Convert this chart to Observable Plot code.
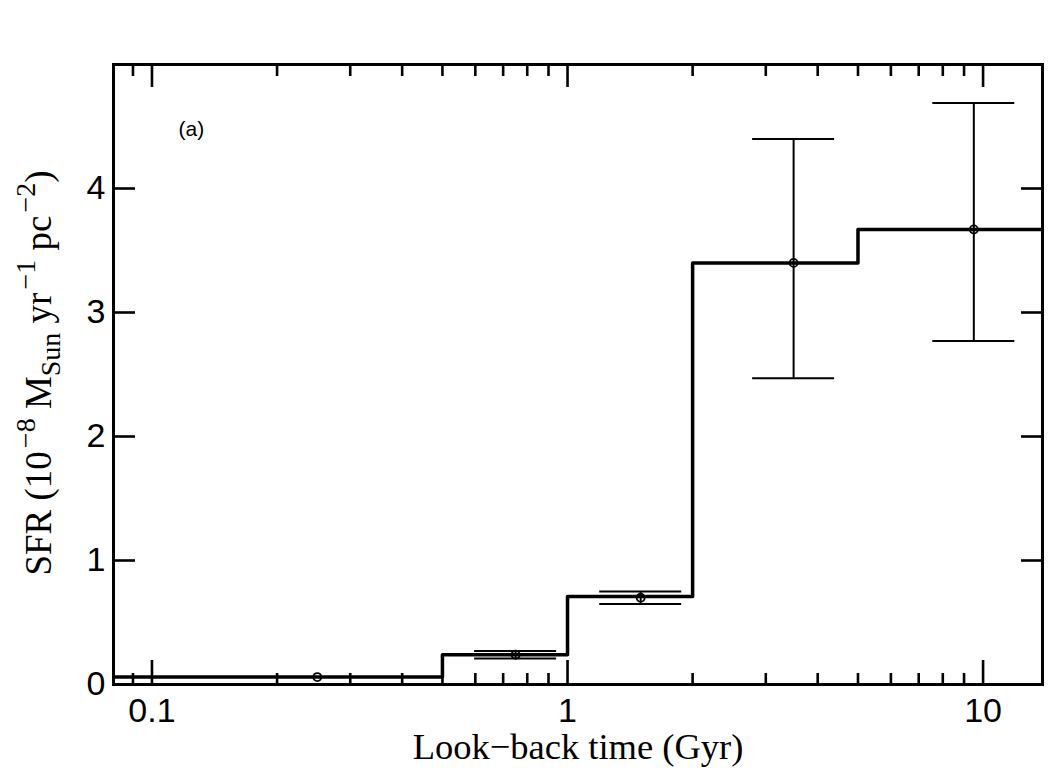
<!DOCTYPE html>
<html><head><meta charset="utf-8">
<script src="https://cdn.jsdelivr.net/npm/d3@7"></script>
<script src="https://cdn.jsdelivr.net/npm/@observablehq/plot@0.6"></script>
<style>body{margin:0;background:#fff} #chart svg{display:block}</style>
</head><body><div id="chart"></div>
<script>
// ---- data ----
const binEdges = [0.08, 0.5, 1, 2, 5, 14];          // Gyr, bin boundaries of the SFH
const sfrStep  = [0.06, 0.24, 0.71, 3.40, 3.67];     // SFR per bin
const pointTime = [0.25, 0.75, 1.5, 3.5, 9.5];       // bin centres (Gyr)
const pointSfr  = [0.06, 0.24, 0.70, 3.40, 3.67];
const errLow    = [0.06, 0.21, 0.65, 2.47, 2.77];
const errHigh   = [0.06, 0.27, 0.75, 4.40, 4.69];
const xMajor = [0.1, 1, 10];
const xMajorLabels = ["0.1", "1", "10"];
const xMinor = [0.09, 0.2, 0.3, 0.4, 0.5, 0.6, 0.7, 0.8, 0.9, 2, 3, 4, 5, 6, 7, 8, 9];
const yTicks = [0, 1, 2, 3, 4];
const yTickLabels = ["0", "1", "2", "3", "4"];
const xDomain = [0.0808, 13.9];
const yDomain = [0, 5];
const panelLabel = "(a)";
const xTitle = "Look\u2212back time (Gyr)";
const yTitleParts = [
  {t: "SFR (10", s: 0},
  {t: "\u22128", s: 1},
  {t: " M", s: 0},
  {t: "Sun", s: -1},
  {t: " yr", s: 0},
  {t: "\u22121", s: 1},
  {t: " pc", s: 0},
  {t: "\u22122", s: 1},
  {t: ")", s: 0}
];

// ---- derived tables ----
const stepData = binEdges.map((t, i) => ({t, sfr: sfrStep[Math.min(i, sfrStep.length - 1)]}));
const points = pointTime.map((t, i) => ({t, sfr: pointSfr[i], lo: errLow[i], hi: errHigh[i]}));
const capFactor = 1.255; // cap half-width as a factor in log space

const sans = "'Liberation Sans', Arial, Helvetica, sans-serif";
const serif = "'Liberation Serif', 'Times New Roman', serif";
const tickStyle = {fill: "none", stroke: "black", strokeWidth: 2.6, label: null};

const plot = Plot.plot({
  width: 1050, height: 773,
  marginLeft: 113, marginRight: 8, marginTop: 64, marginBottom: 89,
  x: {type: "log", domain: xDomain, label: null},
  y: {domain: yDomain, label: null},
  style: {fontFamily: sans, background: "white", color: "black"},
  marks: [
    // tick marks (inward)
    Plot.axisX(xMajor, {anchor: "bottom", tickSize: -24, ...tickStyle}),
    Plot.axisX(xMinor, {anchor: "bottom", tickSize: -11, ...tickStyle}),
    Plot.axisX(xMajor, {anchor: "top", tickSize: -22, ...tickStyle}),
    Plot.axisX(xMinor, {anchor: "top", tickSize: -11, ...tickStyle}),
    Plot.axisY(yTicks, {anchor: "left", tickSize: -22, ...tickStyle}),
    Plot.axisY(yTicks, {anchor: "right", tickSize: -22, ...tickStyle}),
    // tick labels
    Plot.axisX(xMajor, {anchor: "bottom", tickSize: 0, tickPadding: 13, fontSize: 34,
      tickFormat: d => xMajorLabels[xMajor.indexOf(d)], label: null}),
    Plot.axisY(yTicks, {anchor: "left", tickSize: 0, tickPadding: 8, fontSize: 34,
      tickFormat: d => yTickLabels[yTicks.indexOf(d)], label: null}),
    // SFH step line
    Plot.line(stepData, {x: "t", y: "sfr", curve: "step-after", stroke: "black", strokeWidth: 3.5, clip: true}),
    // error bars
    Plot.ruleX(points, {x: "t", y1: "lo", y2: "hi", stroke: "black", strokeWidth: 2}),
    Plot.ruleY(points, {y: "lo", x1: d => d.t / capFactor, x2: d => d.t * capFactor, stroke: "black", strokeWidth: 2}),
    Plot.ruleY(points, {y: "hi", x1: d => d.t / capFactor, x2: d => d.t * capFactor, stroke: "black", strokeWidth: 2}),
    Plot.dot(points, {x: "t", y: "sfr", r: 4, stroke: "black", strokeWidth: 1.8, fill: "none"}),
    // frame
    Plot.frame({stroke: "black", strokeWidth: 3}),
    // panel label
    Plot.text([panelLabel], {text: d => d, frameAnchor: "top-left", dx: 65, dy: 65, fontSize: 21, textAnchor: "start", lineAnchor: "middle"}),
    // x title
    Plot.text([xTitle], {text: d => d, frameAnchor: "bottom", dy: 63, fontSize: 36.5, fontFamily: serif, lineAnchor: "middle"})
  ]
});

document.getElementById("chart").appendChild(plot);

// y title with super/subscripts
const svg = d3.select(plot);
const yt = svg.append("text")
  .attr("transform", "translate(51,373) rotate(-90)")
  .attr("text-anchor", "middle")
  .attr("font-family", serif)
  .attr("font-size", 37)
  .attr("fill", "black");
let cur = 0;
for (const p of yTitleParts) {
  const target = p.s === 1 ? -16 : p.s === -1 ? 9 : 0;
  yt.append("tspan")
    .attr("dy", target - cur)
    .attr("dx", p.s === 1 ? 3 : 0)
    .attr("font-size", p.s === 0 ? 37 : 28)
    .text(p.t);
  cur = target;
}
</script>
</body></html>
